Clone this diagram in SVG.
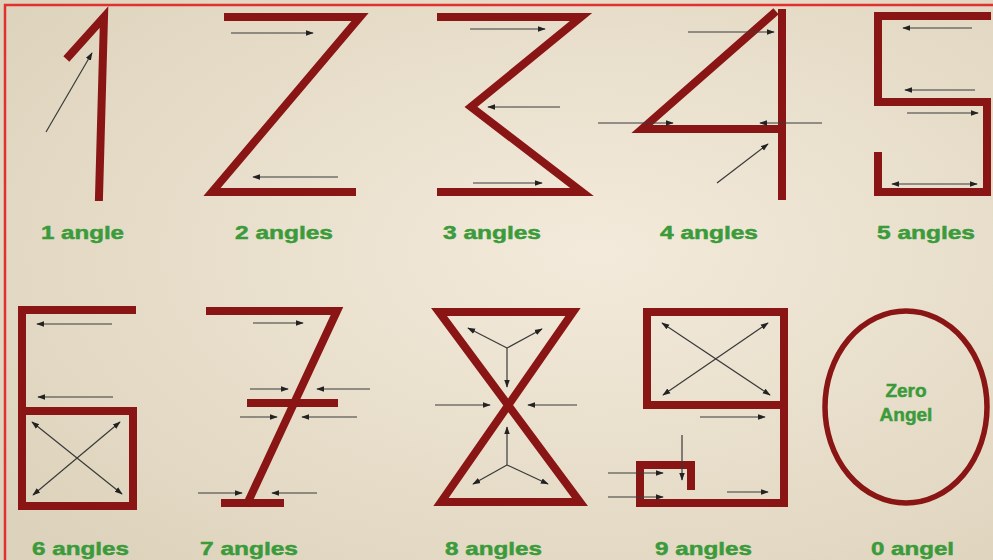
<svg xmlns="http://www.w3.org/2000/svg" width="993" height="560" viewBox="0 0 993 560">
<style>
.d{fill:none;stroke:#8a1515;stroke-width:8;stroke-linecap:square;stroke-linejoin:miter}
.a{fill:none;stroke:#3a3a3a;stroke-width:1.2;marker-end:url(#h)}
.b{fill:none;stroke:#3a3a3a;stroke-width:1.2;marker-end:url(#h);marker-start:url(#h)}
.l{font-family:"Liberation Sans",Arial,sans-serif;font-weight:bold;font-size:19px;fill:#3b9b3b;stroke:#3b9b3b;stroke-width:0.5}
</style>
<defs>
<radialGradient id="bg" cx="0.6" cy="0.45" r="0.75">
<stop offset="0" stop-color="#f3eadb"/>
<stop offset="1" stop-color="#ddd3bc"/>
</radialGradient>
<marker id="h" viewBox="0 0 10 10" refX="9" refY="5" markerWidth="8" markerHeight="8" markerUnits="userSpaceOnUse" orient="auto-start-reverse">
<path d="M0,1.5 L10,5 L0,8.5 Z" fill="#222"/>
</marker>
</defs>
<rect width="993" height="560" fill="url(#bg)"/>
<path d="M5,560 V5 H993" fill="none" stroke="#e03030" stroke-width="2.5"/>

<g id="digit1">
<path class="d" d="M69,56 L104,17 L99,197" stroke-linecap="butt"/>
<line class="a" x1="46" y1="132" x2="92" y2="53"/>
<text class="l" x="41" y="239" textLength="83" lengthAdjust="spacingAndGlyphs">1 angle</text>
</g>

<g id="digit2">
<path class="d" d="M228,17 H360 L212,192 H352"/>
<line class="a" x1="231" y1="33" x2="313" y2="33"/>
<line class="a" x1="338" y1="177" x2="253" y2="177"/>
<text class="l" x="235" y="239" textLength="98" lengthAdjust="spacingAndGlyphs">2 angles</text>
</g>

<g id="digit3">
<path class="d" d="M441,17 H581 L471,107 L582,192 H441"/>
<line class="a" x1="470" y1="29" x2="545" y2="29"/>
<line class="a" x1="560" y1="107" x2="488" y2="107"/>
<line class="a" x1="473" y1="183" x2="542" y2="183"/>
<text class="l" x="443" y="239" textLength="98" lengthAdjust="spacingAndGlyphs">3 angles</text>
</g>

<g id="digit4">
<path class="d" d="M773,14 L642,129 H780" stroke-linecap="round"/>
<line class="d" x1="782" y1="13" x2="782" y2="196" stroke-linecap="butt"/>
<line class="a" x1="688" y1="32" x2="774" y2="32"/>
<line class="a" x1="598" y1="123" x2="673" y2="123"/>
<line class="a" x1="822" y1="123" x2="760" y2="123"/>
<line class="a" x1="717" y1="183" x2="768" y2="144"/>
<text class="l" x="660" y="239" textLength="98" lengthAdjust="spacingAndGlyphs">4 angles</text>
</g>

<g id="digit5">
<path class="d" d="M987,16 H878 V102 H987 V192 H878 V156" stroke-linecap="butt"/>
<line class="a" x1="972" y1="28" x2="903" y2="28"/>
<line class="a" x1="975" y1="90" x2="905" y2="90"/>
<line class="a" x1="907" y1="113" x2="978" y2="113"/>
<line class="b" x1="892" y1="184" x2="977" y2="184"/>
<text class="l" x="877" y="239" textLength="98" lengthAdjust="spacingAndGlyphs">5 angles</text>
</g>

<g id="digit6">
<path class="d" d="M132,310 H22 V506 H133 V411 H22" stroke-linecap="butt"/>
<line class="a" x1="112" y1="324" x2="37" y2="324"/>
<line class="a" x1="113" y1="397" x2="38" y2="397"/>
<line class="b" x1="32" y1="422" x2="122" y2="494"/>
<line class="b" x1="120" y1="422" x2="33" y2="495"/>
<text class="l" x="32" y="555" textLength="97" lengthAdjust="spacingAndGlyphs">6 angles</text>
</g>

<g id="digit7">
<path class="d" d="M210,311 H337 L248,502" stroke-linecap="butt"/>
<line class="d" x1="251" y1="403" x2="334" y2="403" stroke-linecap="butt"/>
<line class="d" x1="225" y1="503" x2="280" y2="503" stroke-linecap="butt"/>
<line class="a" x1="253" y1="323" x2="303" y2="323"/>
<line class="a" x1="250" y1="389" x2="288" y2="389"/>
<line class="a" x1="370" y1="389" x2="317" y2="389"/>
<line class="a" x1="240" y1="417" x2="277" y2="417"/>
<line class="a" x1="357" y1="417" x2="302" y2="417"/>
<line class="a" x1="198" y1="493" x2="242" y2="493"/>
<line class="a" x1="317" y1="493" x2="272" y2="493"/>
<text class="l" x="200" y="555" textLength="98" lengthAdjust="spacingAndGlyphs">7 angles</text>
</g>

<g id="digit8">
<path class="d" d="M439,312 H573 L441,502 H580 Z"/>
<line class="a" x1="507" y1="348" x2="468" y2="328"/>
<line class="a" x1="507" y1="348" x2="542" y2="329"/>
<line class="a" x1="507" y1="348" x2="507" y2="387"/>
<line class="a" x1="435" y1="405" x2="490" y2="405"/>
<line class="a" x1="577" y1="405" x2="528" y2="405"/>
<line class="a" x1="507" y1="465" x2="507" y2="427"/>
<line class="a" x1="507" y1="465" x2="473" y2="484"/>
<line class="a" x1="507" y1="465" x2="548" y2="484"/>
<text class="l" x="445" y="555" textLength="97" lengthAdjust="spacingAndGlyphs">8 angles</text>
</g>

<g id="digit9">
<path class="d" d="M784,405 H647 V312 H784 V503 H640 V465 H691 V486" stroke-linecap="butt"/>
<line class="b" x1="662" y1="323" x2="770" y2="395"/>
<line class="b" x1="768" y1="323" x2="663" y2="395"/>
<line class="a" x1="700" y1="417" x2="765" y2="417"/>
<line class="a" x1="682" y1="435" x2="682" y2="480"/>
<line class="a" x1="608" y1="473" x2="663" y2="473"/>
<line class="a" x1="608" y1="497" x2="663" y2="497"/>
<line class="a" x1="727" y1="492" x2="768" y2="492"/>
<text class="l" x="655" y="555" textLength="97" lengthAdjust="spacingAndGlyphs">9 angles</text>
</g>

<g id="digit0">
<ellipse cx="906" cy="407" rx="81" ry="96" fill="none" stroke="#8a1515" stroke-width="5.5"/>
<text class="l" x="906" y="397" text-anchor="middle">Zero</text>
<text class="l" x="906" y="421" text-anchor="middle">Angel</text>
<text class="l" x="871" y="555" textLength="83" lengthAdjust="spacingAndGlyphs">0 angel</text>
</g>
</svg>
